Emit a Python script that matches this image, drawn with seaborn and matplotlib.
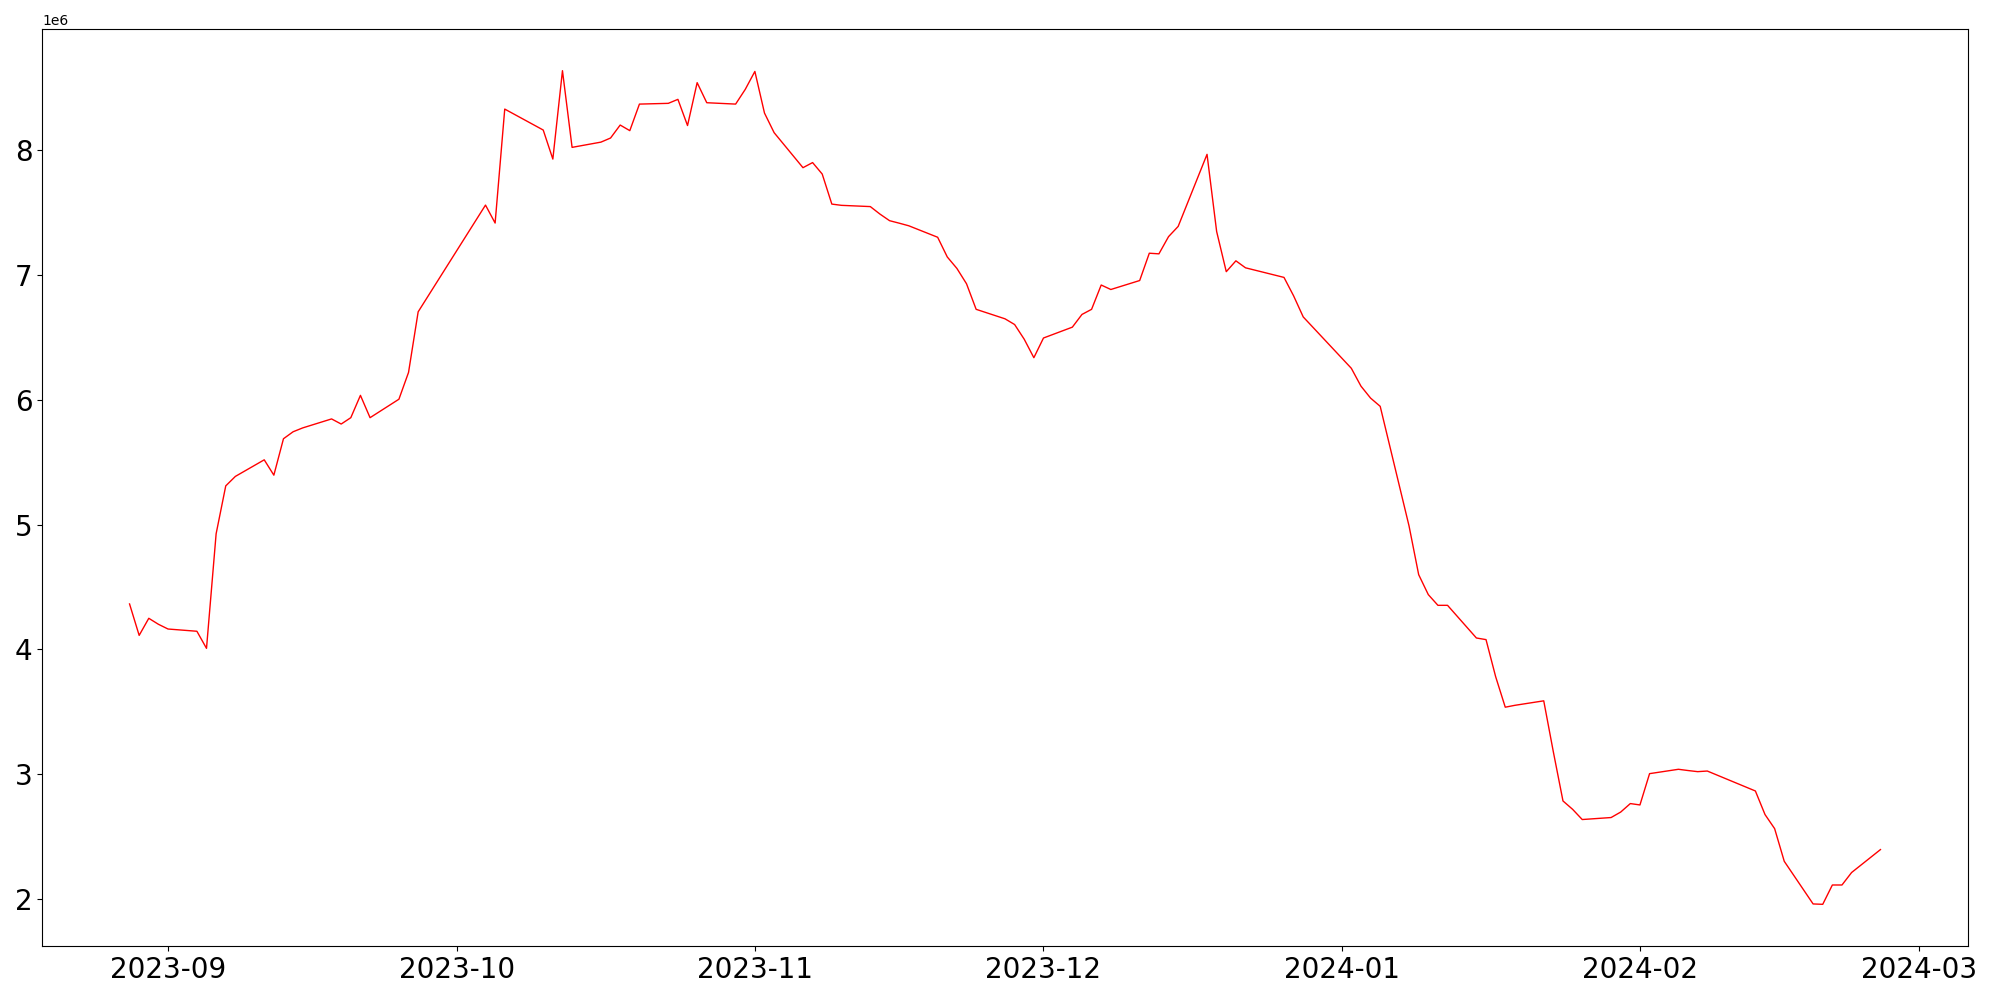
import matplotlib
matplotlib.use("Agg")
import matplotlib.pyplot as plt
import seaborn as sns
import pandas as pd


# daily values, in millions
dates = [
    "2023-08-28", "2023-08-29", "2023-08-30", "2023-08-31", "2023-09-01",
    "2023-09-04", "2023-09-05", "2023-09-06", "2023-09-07", "2023-09-08",
    "2023-09-11", "2023-09-12", "2023-09-13", "2023-09-14", "2023-09-15",
    "2023-09-18", "2023-09-19", "2023-09-20", "2023-09-21", "2023-09-22",
    "2023-09-25", "2023-09-26", "2023-09-27",
    "2023-10-04", "2023-10-05", "2023-10-06",
    "2023-10-10", "2023-10-11", "2023-10-12", "2023-10-13",
    "2023-10-16", "2023-10-17", "2023-10-18", "2023-10-19", "2023-10-20",
    "2023-10-23", "2023-10-24", "2023-10-25", "2023-10-26", "2023-10-27",
    "2023-10-30", "2023-10-31", "2023-11-01", "2023-11-02", "2023-11-03",
    "2023-11-06", "2023-11-07", "2023-11-08", "2023-11-09", "2023-11-10",
    "2023-11-13", "2023-11-14", "2023-11-15", "2023-11-16", "2023-11-17",
    "2023-11-20", "2023-11-21", "2023-11-22", "2023-11-23", "2023-11-24",
    "2023-11-27", "2023-11-28", "2023-11-29", "2023-11-30", "2023-12-01",
    "2023-12-04", "2023-12-05", "2023-12-06", "2023-12-07", "2023-12-08",
    "2023-12-11", "2023-12-12", "2023-12-13", "2023-12-14", "2023-12-15",
    "2023-12-18", "2023-12-19", "2023-12-20", "2023-12-21", "2023-12-22",
    "2023-12-26", "2023-12-27", "2023-12-28",
    "2024-01-02", "2024-01-03", "2024-01-04", "2024-01-05",
    "2024-01-08", "2024-01-09", "2024-01-10", "2024-01-11", "2024-01-12",
    "2024-01-15", "2024-01-16", "2024-01-17", "2024-01-18", "2024-01-19",
    "2024-01-22", "2024-01-23", "2024-01-24", "2024-01-25", "2024-01-26",
    "2024-01-29", "2024-01-30", "2024-01-31", "2024-02-01", "2024-02-02",
    "2024-02-05", "2024-02-06", "2024-02-07", "2024-02-08",
    "2024-02-13", "2024-02-14", "2024-02-15", "2024-02-16",
    "2024-02-19", "2024-02-20", "2024-02-21", "2024-02-22", "2024-02-23",
    "2024-02-26",
]
values = [
    4.363, 4.111, 4.248, 4.20, 4.162,
    4.144, 4.007, 4.926, 5.31, 5.386,
    5.519, 5.396, 5.688, 5.744, 5.775,
    5.847, 5.806, 5.857, 6.036, 5.857,
    6.005, 6.22, 6.706,
    7.562, 7.418, 8.332,
    8.164, 7.931, 8.64, 8.025,
    8.067, 8.10, 8.204, 8.159, 8.372,
    8.378, 8.41, 8.20, 8.544, 8.383,
    8.372, 8.49, 8.634, 8.30, 8.143,
    7.862, 7.903, 7.811, 7.570, 7.56,
    7.55, 7.49, 7.437, 7.417, 7.396,
    7.304, 7.146, 7.054, 6.931, 6.726,
    6.65, 6.604, 6.486, 6.338, 6.496,
    6.583, 6.685, 6.726, 6.921, 6.885,
    6.957, 7.176, 7.171, 7.309, 7.391,
    7.969, 7.350, 7.028, 7.115, 7.059,
    6.982, 6.834, 6.665,
    6.253, 6.11, 6.014, 5.948,
    4.988, 4.598, 4.438, 4.352, 4.352,
    4.09, 4.077, 3.780, 3.535, 3.55,
    3.586, 3.176, 2.783, 2.716, 2.634,
    2.650, 2.694, 2.762, 2.751, 3.002,
    3.037, 3.027, 3.018, 3.023,
    2.863, 2.674, 2.561, 2.299,
    1.957, 1.954, 2.109, 2.109, 2.209,
    2.393,
]

x = pd.to_datetime(dates)
y = [v * 1e6 for v in values]

fig, ax = plt.subplots(figsize=(20, 10), dpi=100)
sns.lineplot(x=x, y=y, color="red", linewidth=1, ax=ax)
ax.tick_params(labelsize=20)
ax.set_xlabel("")
ax.set_ylabel("")

plt.subplots_adjust(left=0.021, right=0.984, top=0.971, bottom=0.054)
plt.savefig("out.png")
